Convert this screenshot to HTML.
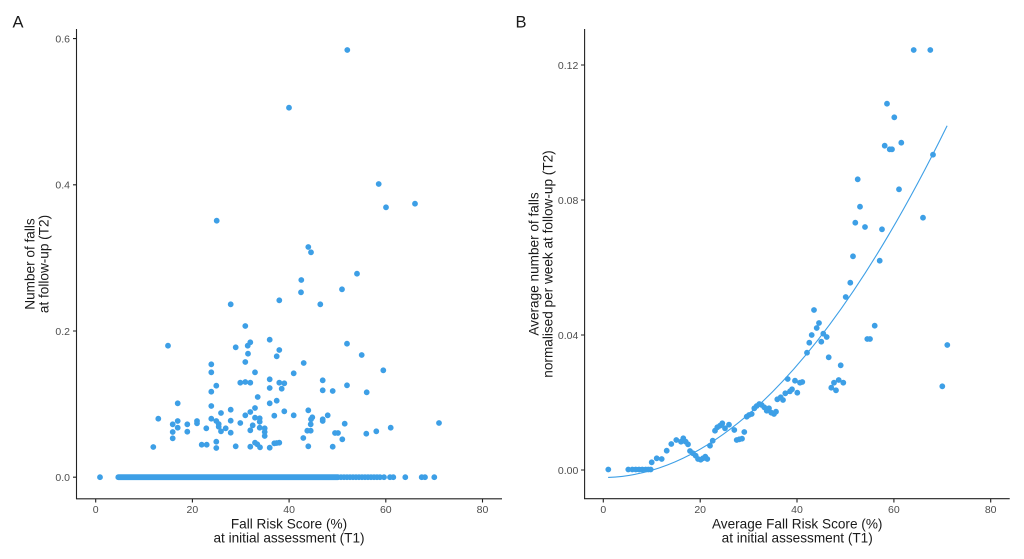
<!DOCTYPE html>
<html>
<head>
<meta charset="utf-8">
<style>
html,body{margin:0;padding:0;background:#fff;}
svg{display:block;font-family:"Liberation Sans",Arial,sans-serif;}
.tk{font-size:10.5px;fill:#4d4d4d;}
.ttl{font-size:13.6px;fill:#1a1a1a;}
.pl{font-size:16.5px;fill:#1a1a1a;}
.dots{fill:none;stroke:#3d9fe6;stroke-width:5.8;stroke-linecap:round;}
</style>
</head>
<body>
<svg width="1024" height="559" viewBox="0 0 1024 559" xmlns="http://www.w3.org/2000/svg">
<rect width="1024" height="559" fill="#fff"/>
<text class="pl" x="12.5" y="27.3">A</text>
<text class="pl" x="515.5" y="27.3">B</text>

<g stroke="#222" stroke-width="1.1" fill="none">
<path d="M76.5 29V499M76 498.8H502M73 38.6H76.5M73 184.8H76.5M73 331H76.5M73 477.2H76.5M95.7 499V502.5M192.4 499V502.5M289.1 499V502.5M385.8 499V502.5M482.5 499V502.5"/>
<path d="M584.6 29V499M584 498.7H1009.7M581 65H584.6M581 200H584.6M581 335H584.6M581 470H584.6M603.3 499V502.5M700.2 499V502.5M797 499V502.5M893.9 499V502.5M990.7 499V502.5"/>
</g>

<g class="tk" text-anchor="end">
<text x="70" y="42.4">0.6</text>
<text x="70" y="188.6">0.4</text>
<text x="70" y="334.8">0.2</text>
<text x="70" y="481">0.0</text>
<text x="578.3" y="68.8">0.12</text>
<text x="578.3" y="203.8">0.08</text>
<text x="578.3" y="338.8">0.04</text>
<text x="578.3" y="473.8">0.00</text>
</g>
<g class="tk" text-anchor="middle">
<text x="95.7" y="513">0</text>
<text x="192.4" y="513">20</text>
<text x="289.1" y="513">40</text>
<text x="385.8" y="513">60</text>
<text x="482.5" y="513">80</text>
<text x="603.3" y="513">0</text>
<text x="700.2" y="513">20</text>
<text x="797" y="513">40</text>
<text x="893.9" y="513">60</text>
<text x="990.7" y="513">80</text>
</g>
<g class="ttl" text-anchor="middle">
<text x="289" y="528.5">Fall Risk Score (%)</text>
<text x="289" y="542.5">at initial assessment (T1)</text>
<text transform="translate(34.5,264) rotate(-90)">Number of falls</text>
<text transform="translate(48.5,264) rotate(-90)">at follow-up (T2)</text>
<text x="797.2" y="528.5">Average Fall Risk Score (%)</text>
<text x="797.2" y="542.5">at initial assessment (T1)</text>
<text transform="translate(538.5,264) rotate(-90)">Average number of falls</text>
<text transform="translate(552.5,264) rotate(-90)">normalised per week at follow-up (T2)</text>
</g>

<path class="dots" d="M118.3 477.2H338"/>
<path class="dots" d="M100 477.2h0M341 477.2h0M344 477.2h0M347 477.2h0M350 477.2h0M353 477.2h0M356 477.2h0M359 477.2h0M362 477.2h0M365 477.2h0M368 477.2h0M371 477.2h0M374 477.2h0M377 477.2h0M380 477.2h0M384 477.2h0M390 477.2h0M393.3 477.2h0M405.3 477.2h0M421.7 477.2h0M425 477.2h0M434.3 477.2h0"/>

<path class="dots" d="M347.3 50h0M289 107.7h0M378.7 184h0M386 207.3h0M415 203.7h0M216.7 220.7h0M308.3 247h0M311 252.3h0M357 273.7h0M301.3 280h0M342 289.3h0M301 292.3h0M230.7 304.3h0M279.3 300.3h0M320.3 304.3h0M245.3 326h0M168 345.7h0M235.7 347.3h0M247.7 345.7h0M250.3 342.3h0M269.7 339.7h0M279.3 350h0M276.7 356.3h0M248 353.7h0M347 343.7h0M361.7 355h0M211.3 364.3h0M211.3 372.3h0M245.3 362h0M303.7 363h0M255 372.3h0M293.7 373.3h0M383.3 370.3h0M240.3 382.7h0M245.3 382h0M250.3 382.7h0M269.7 379.3h0M279.3 382.7h0M284.3 383.3h0M322.7 380.3h0M216.3 385.7h0M347 385.3h0M211.3 391.7h0M269.7 388h0M281.7 388.7h0M322.7 390.3h0M332.7 391h0M366.7 392.3h0M257.7 397h0M177.7 403.3h0M211.3 406h0M269.7 403.3h0M276.7 400.7h0M230.7 409.7h0M255 408h0M221 413h0M250.3 412h0M245.3 415.3h0M255 417.7h0M259.7 418.3h0M259.7 421.7h0M284.3 411.3h0M308.3 410.3h0M293.7 415.3h0M274.3 415.7h0M327.7 415.3h0M312.3 417.3h0M311 419.3h0M322.7 419.3h0M322.7 421h0M158.3 418.7h0M211.3 418.7h0M177.7 421h0M197 421h0M197 423.3h0M230.7 420.7h0M216.3 421h0M218.7 424h0M218.7 426.7h0M172.7 424.3h0M177.7 427.7h0M187.3 424.3h0M187.3 431.7h0M240.3 423h0M252.7 425.3h0M259.7 427.7h0M264.7 428.3h0M225.7 428.3h0M206.3 428.3h0M221 431.3h0M230.7 432.7h0M250.3 430.3h0M264.7 432h0M264.7 436h0M310.7 424.3h0M344.7 423.7h0M390.7 427.7h0M307.3 430.7h0M310.7 430.7h0M335 433h0M338 433h0M366.3 433.7h0M376.3 431.3h0M172.7 432h0M172.7 438.3h0M303.3 438h0M342.3 439.3h0M153.3 447h0M201.7 444.7h0M206.7 444.7h0M216.3 441.7h0M216.3 448h0M235.7 446.3h0M255 442.7h0M257.3 444.3h0M250.3 446.7h0M260 447.3h0M269.7 447.7h0M274.3 443.3h0M279.3 442.7h0M276.7 443h0M308.3 446.3h0M332.7 446.7h0M439 423h0"/>

<path d="M608.14,477.43 Q777.63,471.58 947.12,125.73" fill="none" stroke="#3d9fe6" stroke-width="1.1"/>

<path class="dots" d="M913.7 50h0M930.3 50h0M887 103.7h0M894.3 117.3h0M884.7 145.7h0M889.7 149.3h0M892 149.3h0M901.3 142.7h0M933 154.7h0M857.7 179.3h0M899 189.3h0M860 206.7h0M923 217.7h0M855.3 222.7h0M865 227h0M882 229.3h0M853 256.3h0M879.7 260.7h0M850.3 282.7h0M845.7 297h0M814 310h0M819 323h0M816.7 328h0M874.7 325.7h0M811.7 335h0M823.3 333.7h0M826.7 337h0M809.3 342.7h0M821.3 341.7h0M867.3 339h0M870 339h0M947.3 345h0M807 352.7h0M828.7 357.3h0M840.7 365.3h0M787.7 379h0M795 380.7h0M800 382.7h0M802.3 382h0M838.7 380h0M843.3 382.7h0M834 382.7h0M831.3 387.7h0M836 390.3h0M792 389.3h0M790 391.3h0M797.3 392.7h0M785.3 393.3h0M942.3 386.3h0M777.3 399.3h0M780.7 397.3h0M783 400h0M746.7 416.7h0M749 415h0M751.7 414h0M754.3 408.3h0M756.7 406h0M759.3 404h0M761.7 405h0M764.3 407.3h0M766.7 410.7h0M769 408.3h0M771.3 412.7h0M774 414h0M776 411.7h0M736.7 440h0M739.3 439.3h0M742 438.7h0M744.3 432h0M715 430.7h0M717.3 427.3h0M720 425.7h0M722.3 423.3h0M725 428.3h0M729 424.7h0M734.3 430h0M710 445.7h0M712.7 440.7h0M698 459h0M700.7 459.7h0M703 458.3h0M705.3 456.7h0M707.3 459h0M690 451h0M693 453.3h0M695.7 455.7h0M676.3 440h0M681 441.7h0M683.3 438.3h0M685.7 441.7h0M688 444.3h0M671.3 444h0M666.7 450.7h0M656.7 458.3h0M661.7 459h0M651.7 462.3h0M608.3 469.5h0M628.3 469.5h0M632.3 469.5h0M635.7 469.5h0M639 469.5h0M642.3 469.5h0M645.7 469.5h0M648.3 469.5h0M650.7 469.5h0"/>
</svg>
</body>
</html>
